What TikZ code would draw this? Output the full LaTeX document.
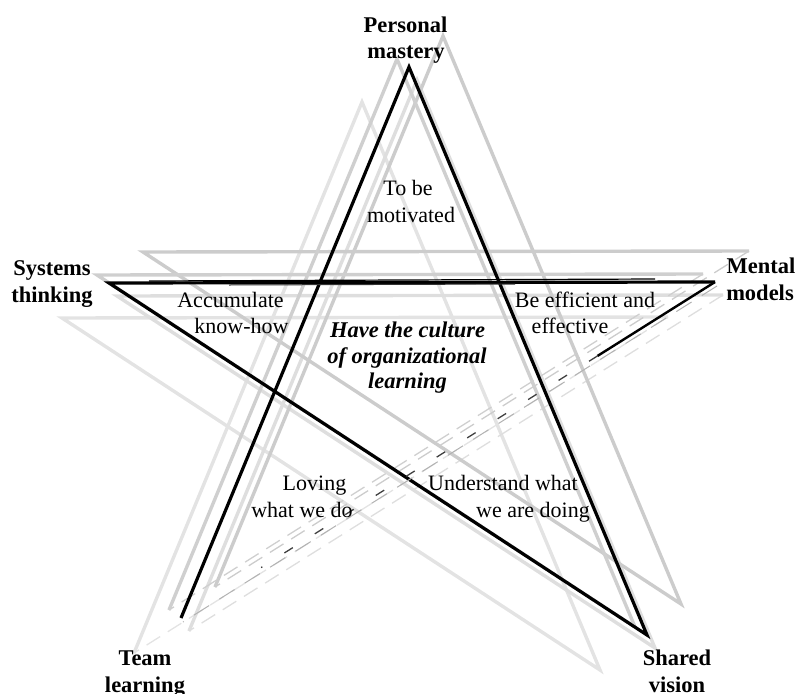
\documentclass[tikz,border=0pt]{standalone}
\usepackage{fontspec}
\setmainfont{Liberation Serif}
\usetikzlibrary{calc}

\tikzset{
  lbl/.style={font=\fontsize{22.5}{27}\selectfont\bfseries, inner sep=0pt, anchor=base},
  txt/.style={font=\fontsize{22}{26}\selectfont, inner sep=0pt, anchor=base},
  keytxt/.style={font=\fontsize{22.5}{27}\selectfont\bfseries\itshape, inner sep=0pt, anchor=base},
  inkline/.style={draw=black, line width=3.2pt, line join=miter},
  ghost/.style={line width=3.4pt, line join=miter},
  ghostdash/.style={line width=1.3pt, dash pattern=on 16pt off 9pt},
}

% one pencil-like copy of the star, shifted by (#1,#2), in colour #3
\newcommand\ghoststar[3]{%
  \draw[ghost,draw=#3]
    ($(BL)+(#1,#2)$) -- ($(T)+(#1,#2)$) -- ($(BR)+(#1,#2)$)
    -- ($(L)+(#1,#2)$) -- ($(R)+(#1,#2)$);
  \draw[ghostdash,draw=#3] ($(R)+(#1,#2)$) -- ($(BL)+(#1,#2)$);
}

\begin{document}
\begin{tikzpicture}[x=1pt,y=-1pt]
\useasboundingbox (0,0) rectangle (796,694);

% star points
\coordinate (T)  at (409,67);
\coordinate (L)  at (109,283);
\coordinate (R)  at (715,282);
\coordinate (BL) at (181,618);
\coordinate (BR) at (647,635);

% faint sketch strokes behind the main star
\ghoststar{-47}{35}{black!11}
\ghoststar{8}{13}{black!13}
\ghoststar{34}{-31}{black!20}
\ghoststar{-12}{-8}{black!19}

% main star
\draw[inkline] (BL) -- (T) -- (BR) -- (L) -- (R);
\draw[black, line width=1.2pt] ($(L)+(40,-2)$) -- ($(R)+(-60,-3)$);
\draw[black!80, line width=1pt] ($(L)+(120,2)$) -- ($(R)+(-200,2)$);
\draw[inkline, line width=2.4pt] (R) -- ($(R)!0.22!(BL)$);
\draw[black!75, line width=1.3pt, dash pattern=on 10pt off 26pt]
  ($(R)!0.22!(BL)$) -- ($(R)!0.85!(BL)$);
\draw[black!30, line width=1pt, dash pattern=on 18pt off 12pt]
  ($(R)+(2,4)$) -- ($(BL)+(2,4)$);

% point labels
\node[lbl] (pm1) at (405.5,32) {Personal};
\node[lbl] (pm2) at (406,58)   {mastery};
\node[lbl] (st1) at (52,275)   {Systems};
\node[lbl] (st2) at (52,302)   {thinking};
\node[lbl] (mm1) at (761,273)  {Mental};
\node[lbl] (mm2) at (760,300)  {models};
\node[lbl] (tl1) at (145,665)  {Team};
\node[lbl] (tl2) at (145,692)  {learning};
\node[lbl] (sv1) at (677,665)  {Shared};
\node[lbl] (sv2) at (677,692)  {vision};

% inner texts
\node[txt] (mo1) at (408,195)   {To be};
\node[txt] (mo2) at (411,222)   {motivated};
\node[txt] (ak1) at (230.5,307) {Accumulate};
\node[txt] (ak2) at (241.5,333) {know-how};
\node[txt] (ef1) at (585,307)   {Be efficient and};
\node[txt] (ef2) at (570,333)   {effective};
\node[txt] (lv1) at (314.5,490) {Loving};
\node[txt] (lv2) at (302,517)   {what we do};
\node[txt] (ud1) at (503,490)   {Understand what};
\node[txt] (ud2) at (533,517)   {we are doing};

% centre
\node[keytxt] (c1) at (407.5,337) {Have the culture};
\node[keytxt] (c2) at (407,363)   {of organizational};
\node[keytxt] (c3) at (407.5,388) {learning};
\end{tikzpicture}
\end{document}
